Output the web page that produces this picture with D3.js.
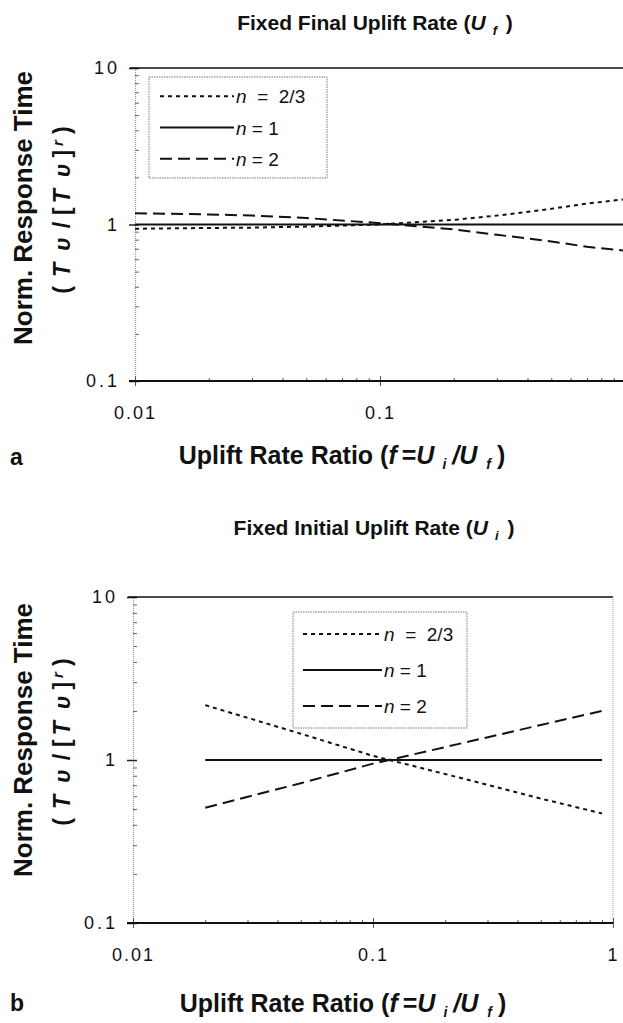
<!DOCTYPE html>
<html><head><meta charset="utf-8">
<script src="https://cdn.jsdelivr.net/npm/d3@7"></script>
<style>
body{margin:0;background:#fff}
svg{display:block}
text{font-family:"Liberation Sans",Arial,Helvetica,sans-serif;fill:#111}
</style>
</head><body>
<svg id="c" width="623" height="1023"></svg>
<script>
// ---------- DATA ----------
// Panel a: Fixed Final Uplift Rate
const fA = [0.01, 0.02, 0.03, 0.05, 0.1, 0.2, 0.3, 0.5, 0.7, 1.0];
const aN23 = [0.94, 0.95, 0.955, 0.97, 1.0, 1.07, 1.14, 1.26, 1.36, 1.45];
const aN1  = [1, 1, 1, 1, 1, 1, 1, 1, 1, 1];
const aN2  = [1.18, 1.16, 1.14, 1.10, 1.02, 0.93, 0.86, 0.78, 0.72, 0.68];
// Panel b: Fixed Initial Uplift Rate
const fB = [0.02, 0.05, 0.1, 0.2, 0.5, 0.9];
const bN23 = [2.17, 1.45, 1.06, 0.82, 0.58, 0.47];
const bN1  = [1, 1, 1, 1, 1, 1];
const bN2  = [0.51, 0.72, 0.95, 1.2, 1.64, 2.0];
// Series names & axis ticks
const seriesNames = ["2/3", "1", "2"];
const xTickVals = [0.01, 0.1, 1];
const xTickLabels = ["0.01", "0.1", "1"];
const yTickVals = [0.1, 1, 10];
const yTickLabels = ["0.1", "1", "10"];

// ---------- LAYOUT ----------
const svg = d3.select("#c");
const dashes = ["4,4", null, "12,6"];

const panels = [
  {letter:"a", xr:[135, 625], yr:[381, 68], f:fA, ys:[aN23, aN1, aN2],
   title:["Fixed Final Uplift Rate (", "U", "f", " )"], titleY:30, titleX:375,
   legend:{x:149, y:77, w:178, h:101, lx0:160, lx1:234, tx:236},
   ylabCy:208, xtitleY:464, xtitleX:342, letterY:465, showRight:false},
  {letter:"b", xr:[133, 613], yr:[923, 597], f:fB, ys:[bN23, bN1, bN2],
   title:["Fixed Initial Uplift Rate (", "U", "i", " )"], titleY:535, titleX:374,
   legend:{x:293, y:612, w:174, h:116, lx0:303, lx1:382, tx:384},
   ylabCy:740, xtitleY:1012, xtitleX:343, letterY:1011, showRight:true}
];

panels.forEach(p => {
  const x = d3.scaleLog().domain([0.01, 1]).range(p.xr);
  const y = d3.scaleLog().domain([0.1, 10]).range(p.yr);
  const g = svg.append("g");
  const xR = Math.min(p.xr[1], 623);

  // clip
  const cid = "clip" + p.letter;
  svg.append("clipPath").attr("id", cid).append("rect")
    .attr("x", p.xr[0]).attr("y", p.yr[1]).attr("width", xR - p.xr[0]).attr("height", p.yr[0] - p.yr[1]);

  // left axis (dotted light line with inward minor ticks)
  const minorY = [];
  [0.1, 1].forEach(d => { for (let k = 2; k <= 9; k++) minorY.push(d * k); });
  const leftAx = d3.axisLeft(y).tickValues(minorY).tickSize(-4).tickFormat("");
  const gl = g.append("g").attr("transform", `translate(${p.xr[0]},0)`).call(leftAx);
  gl.select(".domain").attr("stroke", "#999").attr("stroke-dasharray", "1,1").attr("stroke-width", 1.2);
  gl.selectAll(".tick line").attr("stroke", "#666").attr("stroke-width", 1);

  // major y ticks + labels
  const yMaj = d3.axisLeft(y).tickValues(yTickVals).tickSize(6).tickPadding(9)
    .tickFormat((d, i) => yTickLabels[i]);
  const gy = g.append("g").attr("transform", `translate(${p.xr[0]},0)`).call(yMaj);
  gy.select(".domain").remove();
  gy.selectAll(".tick line").attr("stroke", "#222").attr("stroke-width", 1.5).attr("x2", -6).attr("x1", 4);
  gy.selectAll(".tick text").attr("font-size", 18).attr("letter-spacing", "3px").attr("fill", "#333")
    .style("font-family", "'Liberation Sans',Arial,sans-serif");

  // top line
  g.append("line").attr("x1", p.xr[0] - 5).attr("x2", xR).attr("y1", y(10)).attr("y2", y(10))
    .attr("stroke", "#111").attr("stroke-width", 1.6);

  // right border
  if (p.showRight) {
    g.append("line").attr("x1", p.xr[1]).attr("x2", p.xr[1]).attr("y1", y(10)).attr("y2", y(0.1))
      .attr("stroke", "#aaa").attr("stroke-dasharray", "1,1").attr("stroke-width", 1.2);
  }

  // bottom axis: minor ticks inward
  const minorX = [];
  [0.01, 0.1].forEach(d => { for (let k = 2; k <= 9; k++) minorX.push(d * k); });
  const botMinor = d3.axisBottom(x).tickValues(minorX.filter(v => x(v) <= 623)).tickSize(-3).tickFormat("");
  const gb = g.append("g").attr("transform", `translate(0,${y(0.1)})`).call(botMinor);
  gb.select(".domain").remove();
  gb.selectAll(".tick line").attr("stroke", "#555").attr("stroke-width", 1);

  const visX = xTickVals.map((v, i) => [v, xTickLabels[i]]).filter(d => x(d[0]) <= 615);
  const botMaj = d3.axisBottom(x).tickValues(visX.map(d => d[0])).tickSize(5).tickPadding(20)
    .tickFormat((d, i) => visX[i][1]);
  const gx = g.append("g").attr("transform", `translate(0,${y(0.1)})`).call(botMaj);
  gx.select(".domain").remove();
  gx.selectAll(".tick line").attr("stroke", "#555").attr("stroke-width", 1).attr("y1", -5);
  gx.selectAll(".tick text").attr("font-size", 18).attr("letter-spacing", "2px").attr("fill", "#333")
    .style("font-family", "'Liberation Sans',Arial,sans-serif");

  g.append("line").attr("x1", p.xr[0] - 6).attr("x2", xR).attr("y1", y(0.1)).attr("y2", y(0.1))
    .attr("stroke", "#111").attr("stroke-width", 1.8);

  // series lines
  const line = d3.line().x(d => x(d[0])).y(d => y(d[1]));
  p.ys.forEach((vals, i) => {
    const pts = p.f.map((fv, j) => [fv, vals[j]]);
    g.append("path").attr("d", line(pts)).attr("clip-path", `url(#${cid})`)
      .attr("fill", "none").attr("stroke", "#111").attr("stroke-width", 2)
      .attr("stroke-dasharray", dashes[i]);
  });

  // legend
  const L = p.legend;
  g.append("rect").attr("x", L.x).attr("y", L.y).attr("width", L.w).attr("height", L.h)
    .attr("fill", "#fff").attr("stroke", "#777").attr("stroke-width", 1).attr("stroke-dasharray", "1.5,1");
  seriesNames.forEach((nm, i) => {
    const ly = L.y + L.h * (0.19 + 0.31 * i);
    g.append("line").attr("x1", L.lx0).attr("x2", L.lx1).attr("y1", ly).attr("y2", ly)
      .attr("stroke", "#111").attr("stroke-width", 2).attr("stroke-dasharray", dashes[i]);
    const t = g.append("text").attr("x", L.tx).attr("y", ly + 7).attr("font-size", 19);
    t.append("tspan").attr("font-style", "italic").text("n");
    t.append("tspan").attr("xml:space", "preserve").text(i === 0 ? "  =  " + nm : " = " + nm);
  });

  // title
  const tt = svg.append("text").attr("x", p.titleX).attr("y", p.titleY).attr("text-anchor", "middle")
    .attr("font-size", 21).attr("font-weight", "bold");
  tt.append("tspan").text(p.title[0]);
  tt.append("tspan").attr("font-style", "italic").text(p.title[1]);
  tt.append("tspan").attr("font-style", "italic").attr("font-size", 13).attr("dx", 7).attr("dy", 5).text(p.title[2]);
  tt.append("tspan").attr("dx", 3).attr("dy", -5).text(p.title[3]);

  // y label (two lines)
  const yl = svg.append("g").attr("transform", `translate(0,${p.ylabCy}) rotate(-90)`);
  yl.append("text").attr("x", 0).attr("y", 32).attr("text-anchor", "middle")
    .attr("font-size", 26).attr("font-weight", "bold").text("Norm. Response Time");
  const y2 = yl.append("text").attr("x", 0).attr("y", 70).attr("text-anchor", "middle")
    .attr("font-size", 23).attr("font-weight", "bold").attr("letter-spacing", "4px");
  y2.append("tspan").text("(");
  y2.append("tspan").attr("font-style", "italic").attr("dx", 5).text("T");
  y2.append("tspan").attr("font-style", "italic").attr("dx", 8).text("υ");
  y2.append("tspan").attr("dx", 5).text("/");
  y2.append("tspan").attr("dx", 3).text("[");
  y2.append("tspan").attr("font-style", "italic").text("T");
  y2.append("tspan").attr("font-style", "italic").attr("dx", 8).text("υ");
  y2.append("tspan").attr("dx", 2).text("]");
  y2.append("tspan").attr("font-style", "italic").attr("font-size", 15).attr("dy", -7).text("r");
  y2.append("tspan").attr("dy", 7).attr("dx", 2).text(")");

  // x title
  const xt = svg.append("text").attr("x", p.xtitleX).attr("y", p.xtitleY).attr("text-anchor", "middle")
    .attr("font-size", 25).attr("font-weight", "bold");
  xt.append("tspan").text("Uplift Rate Ratio (");
  xt.append("tspan").attr("font-style", "italic").text("f");
  xt.append("tspan").attr("dx", 5).text("=");
  xt.append("tspan").attr("font-style", "italic").text("U");
  xt.append("tspan").attr("font-style", "italic").attr("font-size", 14).attr("dx", 8).attr("dy", 5).text("i");
  xt.append("tspan").attr("font-style", "italic").attr("dx", 6).attr("dy", -5).text("/U");
  xt.append("tspan").attr("font-style", "italic").attr("font-size", 14).attr("dx", 9).attr("dy", 5).text("f");
  xt.append("tspan").attr("dx", 6).attr("dy", -5).text(")");

  // panel letter
  svg.append("text").attr("x", 10).attr("y", p.letterY).attr("font-size", 23).attr("font-weight", "bold").text(p.letter);
});
</script>
</body></html>
